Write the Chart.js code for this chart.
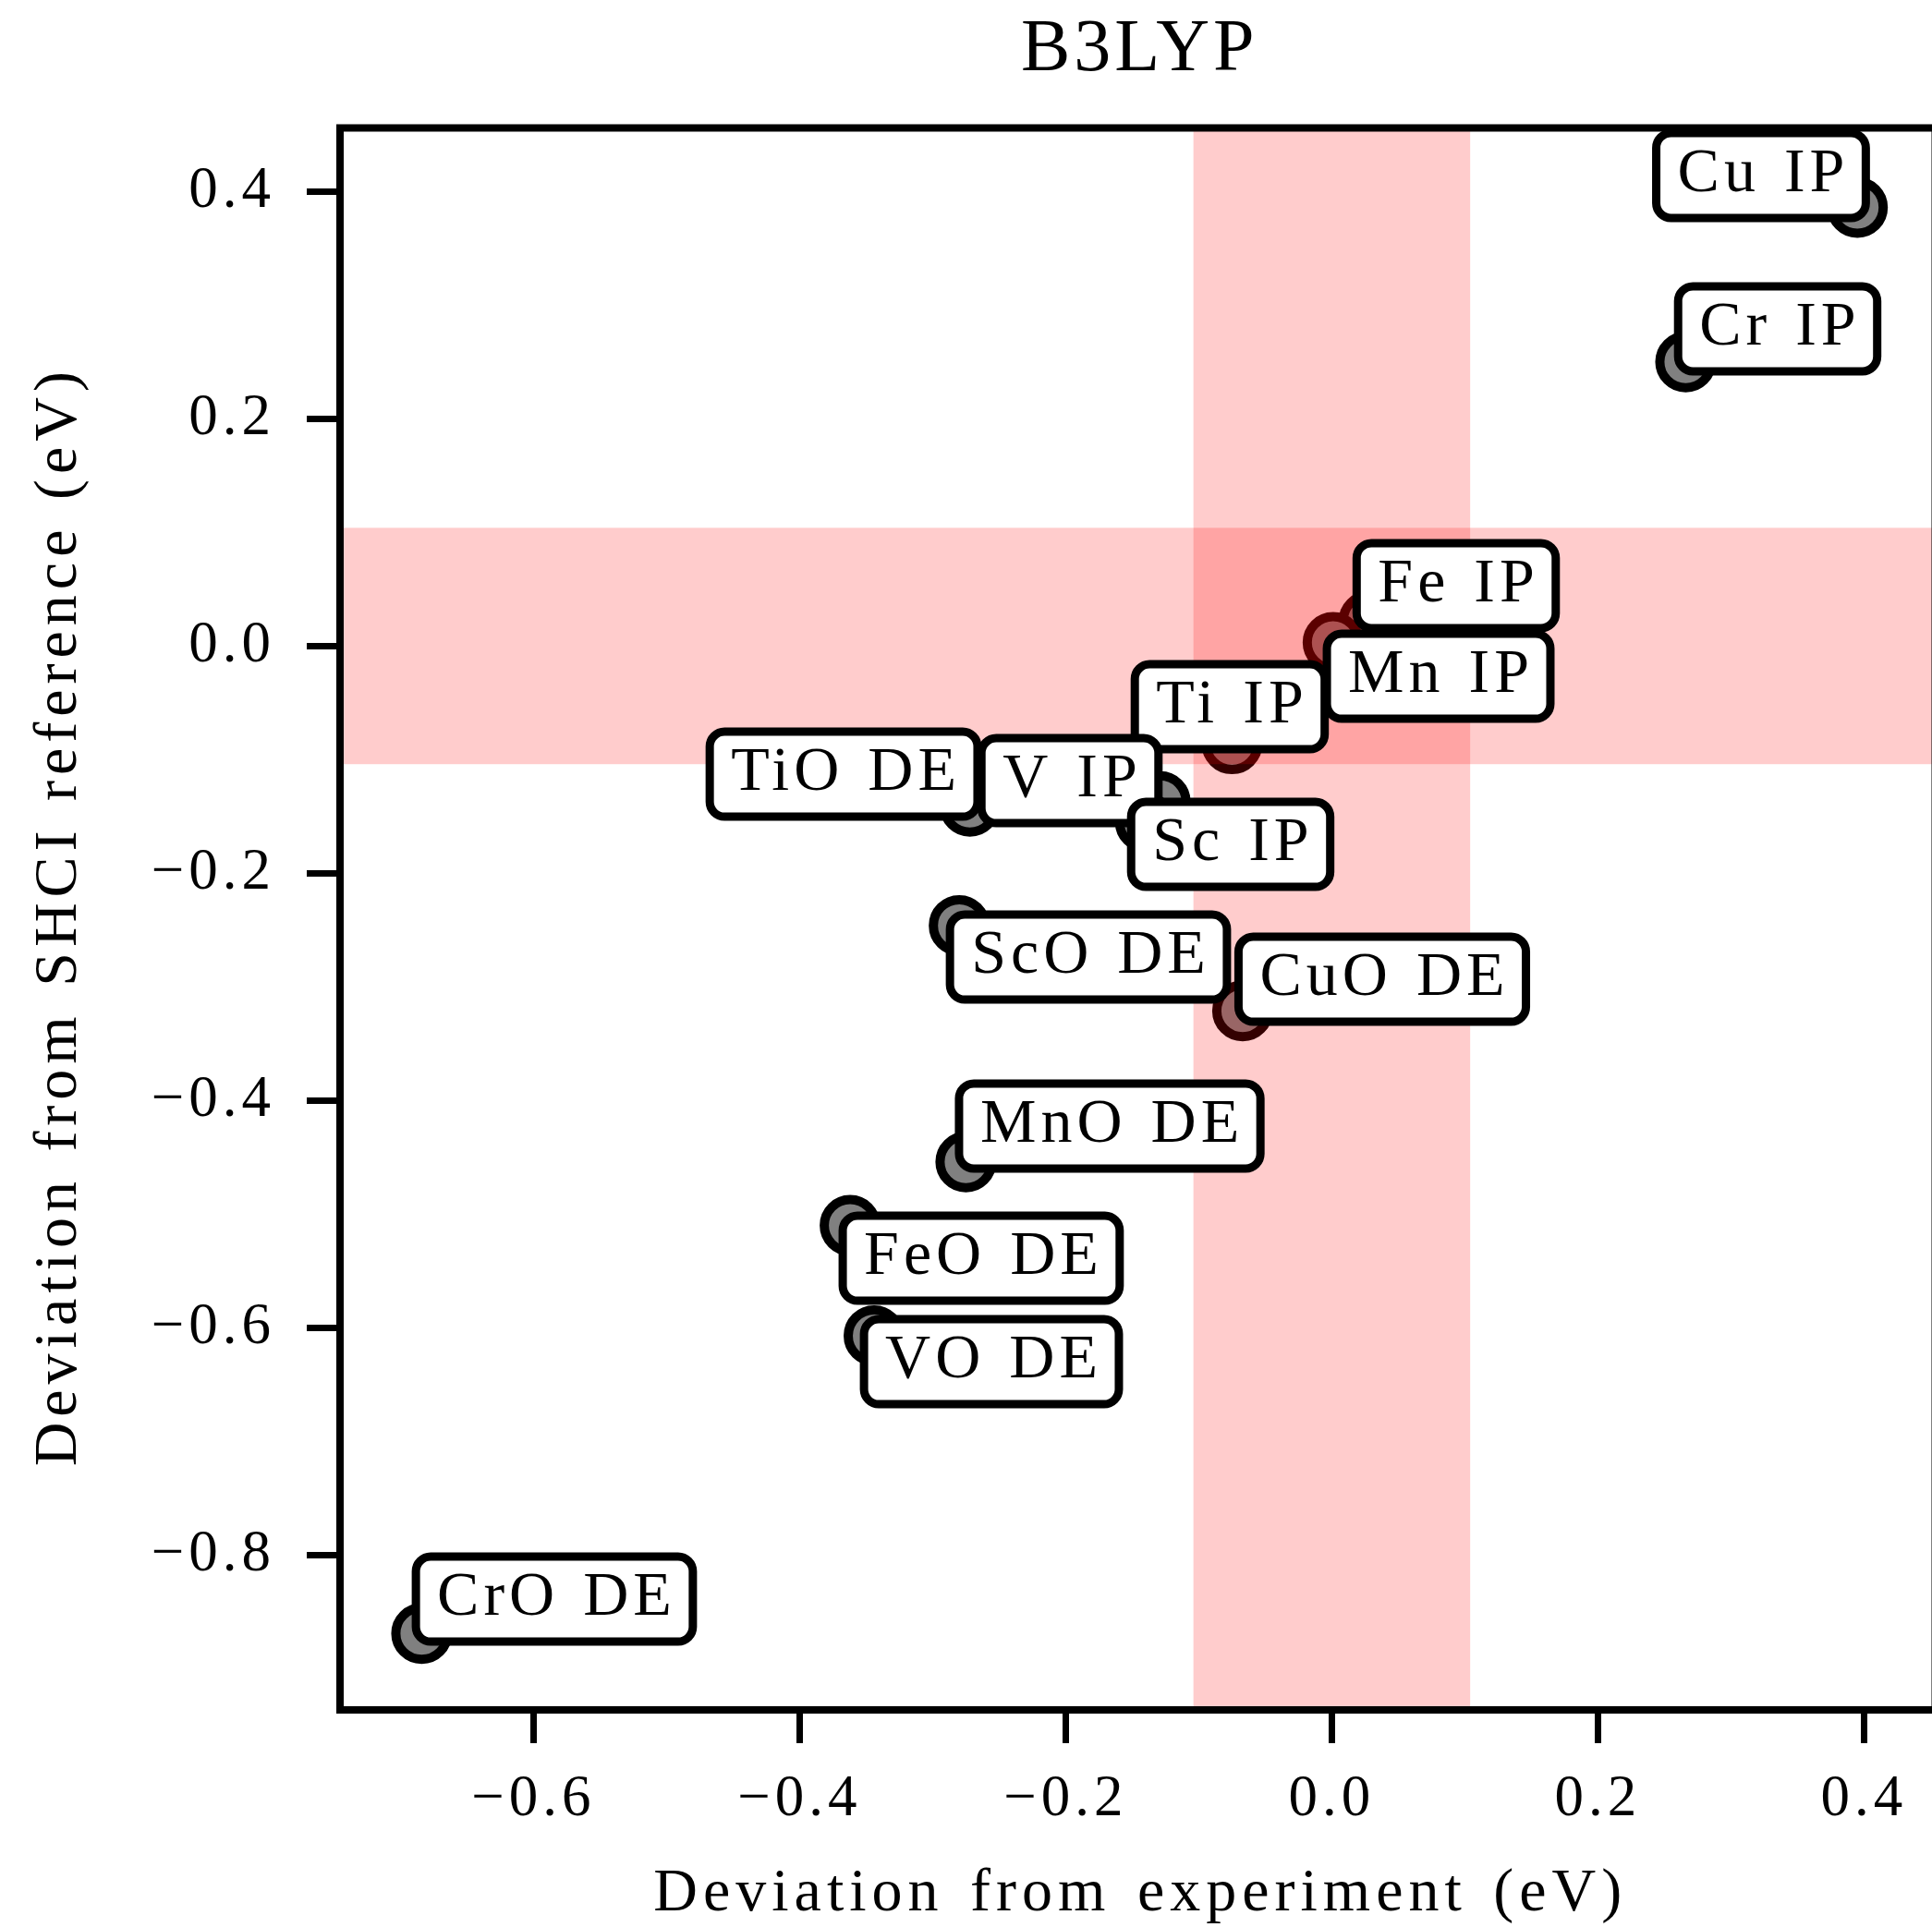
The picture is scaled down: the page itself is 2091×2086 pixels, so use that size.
<!DOCTYPE html>
<html lang="en">
<head>
    <meta charset="UTF-8">
    <title>B3LYP</title>
    <script src="https://cdn.jsdelivr.net/npm/chart.js"></script>
    <style>
        html, body {
            margin: 0;
            padding: 0;
            background: #fff;
        }

        canvas {
            display: block;
        }
    </style>
</head>
<body>
    <canvas id="chartCanvas" width="2091" height="2086"></canvas>

    <script>
        // deviations in eV
        const names = ['Cu IP', 'Cr IP', 'Fe IP', 'Mn IP', 'Ti IP', 'V IP', 'TiO DE', 'Sc IP',
                       'ScO DE', 'CuO DE', 'MnO DE', 'FeO DE', 'VO DE', 'CrO DE'];
        const expDeviation = [0.395, 0.266, 0.028, 0.001, -0.075, -0.129, -0.272, -0.140,
                              -0.280, -0.067, -0.275, -0.362, -0.344, -0.684];
        const shciDeviation = [0.386, 0.250, 0.022, 0.003, -0.086, -0.137, -0.141, -0.155,
                               -0.246, -0.321, -0.454, -0.510, -0.607, -0.869];
        // where each text box was placed (data units, like annotate's xytext)
        const labelX = [0.3226, 0.3351, 0.0935, 0.0803, -0.0767, -0.1968, -0.3669, -0.0760,
                        -0.1829, 0.0379, -0.1669, -0.2635, -0.2558, -0.5843];
        const labelY = [0.4141, 0.2791, 0.0531, -0.0266, -0.0535, -0.1185, -0.1128, -0.1746,
                        -0.2738, -0.2933, -0.4225, -0.5388, -0.6299, -0.8388];

        const xTicks = [-0.6, -0.4, -0.2, 0.0, 0.2, 0.4];
        const yTicks = [-0.8, -0.6, -0.4, -0.2, 0.0, 0.2, 0.4];
        const xRange = [-0.7454, 0.4511];
        const yRange = [-0.9363, 0.4559];
        const accuracyBand = 0.104;

        const titleText = 'B3LYP';
        const xTitle = 'Deviation from experiment (eV)';
        const yTitle = 'Deviation from SHCI reference (eV)';

        const FONT = '"Liberation Serif", "Times New Roman", serif';

        const fmt = v => (v < -1e-9 ? '\u2212' : '') + Math.abs(v).toFixed(1);

        // centred text that accounts for letter spacing
        function spacedText(ctx, text, x, y, size, spacing, wordSpacing) {
            ctx.font = `${size}px ${FONT}`;
            ctx.letterSpacing = spacing + 'px';
            ctx.wordSpacing = wordSpacing + 'px';
            ctx.textAlign = 'left';
            ctx.textBaseline = 'alphabetic';
            const w = ctx.measureText(text).width - spacing;
            ctx.fillText(text, x - w / 2, y);
            return w;
        }

        const overlay = {
            id: 'overlay',
            beforeDraw(chart) {
                chart.ctx.letterSpacing = '5px';
            },
            afterDatasetsDraw(chart) {
                const { ctx, chartArea: a, scales: { x, y } } = chart;

                // shaded +-0.1 eV bands, drawn over the markers like the original
                ctx.save();
                ctx.beginPath();
                ctx.rect(a.left, a.top, a.right - a.left, a.bottom - a.top);
                ctx.clip();
                ctx.fillStyle = 'rgba(255, 0, 0, 0.2)';
                const bx0 = x.getPixelForValue(-accuracyBand);
                const bx1 = x.getPixelForValue(accuracyBand);
                ctx.fillRect(bx0, a.top, bx1 - bx0, a.bottom - a.top);
                const by0 = y.getPixelForValue(accuracyBand);
                const by1 = y.getPixelForValue(-accuracyBand);
                ctx.fillRect(a.left, by0, a.right - a.left, by1 - by0);
                ctx.restore();

                // frame
                ctx.save();
                ctx.strokeStyle = '#000';
                ctx.lineWidth = 8;
                ctx.strokeRect(a.left, a.top, a.right + 3.5 - a.left, a.bottom - a.top);
                ctx.restore();

                // text boxes
                ctx.save();
                names.forEach((name, i) => {
                    const cx = x.getPixelForValue(labelX[i]);
                    const cy = y.getPixelForValue(labelY[i]);
                    ctx.font = `68px ${FONT}`;
                    ctx.letterSpacing = '5px';
                    ctx.wordSpacing = '4px';
                    const w = ctx.measureText(name).width - 5;
                    const bw = w + 46;
                    const bh = 92;
                    ctx.beginPath();
                    ctx.roundRect(cx - bw / 2, cy - bh / 2, bw, bh, 16);
                    ctx.fillStyle = '#fff';
                    ctx.fill();
                    ctx.lineWidth = 9;
                    ctx.strokeStyle = '#000';
                    ctx.stroke();
                    ctx.fillStyle = '#000';
                    spacedText(ctx, name, cx, cy + 17, 68, 5, 4);
                });
                ctx.restore();
            },
            afterDraw(chart) {
                const { ctx, chartArea: a } = chart;
                const midX = (a.left + a.right + 3.5) / 2;
                const midY = (a.top + a.bottom) / 2;
                ctx.save();
                ctx.fillStyle = '#000';
                spacedText(ctx, titleText, midX, 76, 80, 4, 0);
                spacedText(ctx, xTitle, midX, 2068, 66, 6, 6);
                ctx.translate(82, midY);
                ctx.rotate(-Math.PI / 2);
                spacedText(ctx, yTitle, 0, 0, 66, 6, 4);
                ctx.restore();
            }
        };

        const chart = new Chart(document.getElementById('chartCanvas'), {
            type: 'scatter',
            data: {
                datasets: [{
                    data: expDeviation.map((v, i) => ({ x: v, y: shciDeviation[i] })),
                    pointRadius: 28,
                    pointBorderWidth: 10,
                    pointBackgroundColor: '#808080',
                    pointBorderColor: '#000',
                    pointHoverRadius: 28
                }]
            },
            options: {
                responsive: false,
                animation: false,
                events: [],
                layout: {
                    autoPadding: false,
                    padding: { top: 138.5, left: 0, right: 0, bottom: 0 }
                },
                plugins: {
                    legend: { display: false },
                    tooltip: { enabled: false },
                    title: { display: false }
                },
                scales: {
                    x: {
                        type: 'linear',
                        min: xRange[0],
                        max: xRange[1],
                        afterBuildTicks: scale => {
                            scale.ticks = xTicks.map(v => ({ value: v }));
                        },
                        afterFit: scale => {
                            scale.height = 235;
                        },
                        border: { display: false },
                        grid: {
                            drawOnChartArea: false,
                            tickLength: 36,
                            tickWidth: 7,
                            tickColor: '#000'
                        },
                        ticks: {
                            color: '#000',
                            padding: 24,
                            maxRotation: 0,
                            font: { family: FONT, size: 63 },
                            callback: v => fmt(v)
                        }
                    },
                    y: {
                        type: 'linear',
                        min: yRange[0],
                        max: yRange[1],
                        afterBuildTicks: scale => {
                            scale.ticks = yTicks.map(v => ({ value: v }));
                        },
                        afterFit: scale => {
                            scale.width = 368;
                        },
                        border: { display: false },
                        grid: {
                            drawOnChartArea: false,
                            tickLength: 36,
                            tickWidth: 7,
                            tickColor: '#000'
                        },
                        ticks: {
                            color: '#000',
                            padding: 34,
                            font: { family: FONT, size: 63 },
                            callback: v => fmt(v)
                        }
                    }
                }
            },
            plugins: [overlay]
        });
    </script>
</body>
</html>
